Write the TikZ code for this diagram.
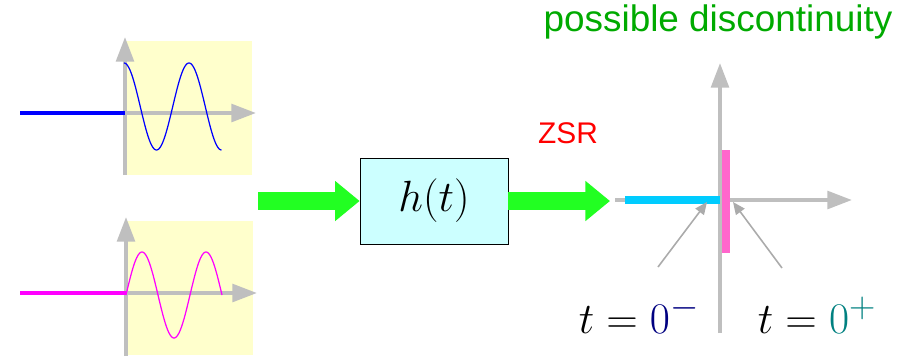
\documentclass[tikz,border=0pt]{standalone}
\usepackage{fontspec}
\newfontfamily\arial{Liberation Sans}
\usetikzlibrary{arrows.meta}

\definecolor{axisgray}{HTML}{BFBFBF}
\definecolor{ptrgray}{HTML}{ABABAB}
\definecolor{panelyellow}{HTML}{FFFFCC}
\definecolor{boxcyan}{HTML}{CCFFFF}
\definecolor{flowgreen}{HTML}{22FF22}
\definecolor{textgreen}{HTML}{00AA00}
\definecolor{zsrcyan}{HTML}{00CCFF}
\definecolor{barpink}{HTML}{FF66CC}
\definecolor{sigmagenta}{HTML}{FF00FF}
\definecolor{sigblue}{HTML}{0000FF}

\tikzset{
	axis/.style={axisgray, line width=2.2pt, -{Triangle[length=14pt, width=10pt]}},
	inline/.style={line width=2.4pt},
	wave/.style={line width=0.7pt},
	flow/.style={flowgreen, line width=10.8pt, -{Triangle[length=14pt, width=22pt]}},
	pointer/.style={ptrgray, line width=0.9pt, -{Triangle[length=7pt, width=6pt]}},
}

\begin{document}
\begin{tikzpicture}[x=0.02cm, y=-0.02cm]
	\useasboundingbox (0,0) rectangle (916,356);
	
	% ---------- 上图：余弦输入 ----------
	\fill[panelyellow] (124,41) rectangle (252,175);
	\draw[axis] (125,175) -- (125,37);
	\draw[axis] (125,113) -- (256,113);
	\draw[sigblue, inline] (20,113) -- (125,113);
	\draw[sigblue, wave] plot[domain=0:97.5, samples=100] ({124+\x},{106.5-43.5*cos(\x/65*360)});
	
	% ---------- 下图：正弦输入 ----------
	\fill[panelyellow] (127,221) rectangle (253,355);
	\draw[axis] (126,356) -- (126,217);
	\draw[axis] (126,293) -- (257,293);
	\draw[sigmagenta, inline] (20,293) -- (126,293);
	\draw[sigmagenta, wave] plot[domain=0:96, samples=100] ({126+\x},{295-43*sin(\x/64*360)});
	
	% ---------- 系统 ----------
	\node[draw, fill=boxcyan, thin, minimum width=148*0.02cm, minimum height=86*0.02cm, font=\fontsize{28}{32}\selectfont] (sys) at (434,201) {$h(t)$};
	\coordinate (in) at (258,201);
	\coordinate (out) at (610,201);
	\draw[flow] (in) -- (sys.west);
	\draw[flow] (sys.east) -- (out);
	\node[red, font=\arial\fontsize{17}{20}\selectfont] (zsr) at (568,133) {ZSR};
	
	% ---------- 右图：t=0 处的不连续 ----------
	\coordinate (o) at (720,200);
	\draw[axis] (720,333) -- (720,63);
	\draw[axis] (615,200) -- (852,200);
	\draw[zsrcyan, line width=4pt] (625,200) -- (o);
	\fill[barpink] (722,150) rectangle (730,253);
	\node[textgreen, font=\arial\fontsize{21}{24}\selectfont] (disc) at (718,22) {possible discontinuity};
	
	% 左右极限标注
	\node[font=\Huge] (tminus) at (639,315) {$t=\textcolor[HTML]{000080}{0}^{\textcolor[HTML]{000080}{-}}$};
	\node[font=\Huge] (tplus) at (817,315) {$t=\textcolor[HTML]{008080}{0}^{\textcolor[HTML]{008080}{+}}$};
	\coordinate (pm) at (707,202);
	\coordinate (pp) at (733,202);
	\draw[pointer] (658,267) -- (pm);
	\draw[pointer] (782,268) -- (pp);
\end{tikzpicture}
\end{document}
